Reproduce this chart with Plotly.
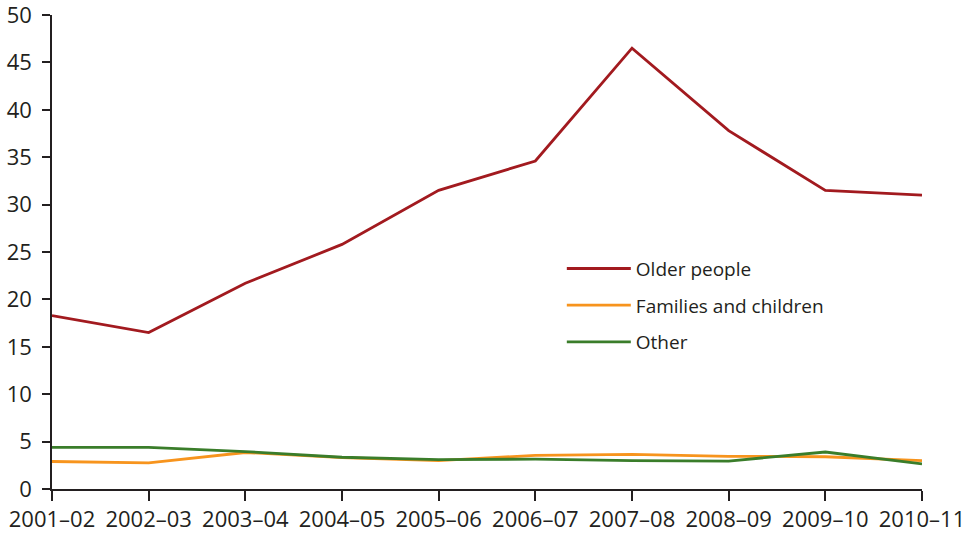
import plotly.graph_objects as go

years = ["2001–02", "2002–03", "2003–04", "2004–05", "2005–06",
         "2006–07", "2007–08", "2008–09", "2009–10", "2010–11"]
older_people = [18.3, 16.5, 21.7, 25.8, 31.5, 34.6, 46.5, 37.8, 31.5, 31.0]
families_children = [2.9, 2.75, 3.85, 3.3, 3.0, 3.55, 3.65, 3.45, 3.4, 3.0]
other = [4.4, 4.4, 3.95, 3.35, 3.1, 3.15, 3.0, 2.95, 3.9, 2.65]

series_names = ["Older people", "Families and children", "Other"]
colors = ["#A21A1F", "#F7941D", "#3A7D2A"]
font_family = "Open Sans, Noto Sans, sans-serif"
text_color = "#231F20"

fig = go.Figure()
for i, (name, vals) in enumerate(zip(series_names, [older_people, families_children, other])):
    fig.add_trace(go.Scatter(
        x=list(range(len(years))), y=vals, mode="lines", name=name,
        line=dict(color=colors[i], width=2.8), legendgroup=f"g{i}",
    ))

fig.update_layout(
    width=966, height=533,
    margin=dict(l=52, r=44, t=15, b=44),
    paper_bgcolor="white", plot_bgcolor="white",
    font=dict(family=font_family, size=22, color=text_color),
    showlegend=True,
    legend=dict(x=0.586, y=0.505, xanchor="left", yanchor="top",
                font=dict(size=19, color=text_color), tracegroupgap=9,
                bgcolor="rgba(0,0,0,0)", itemwidth=64),
    xaxis=dict(
        range=[0, len(years) - 1], tickmode="array",
        tickvals=list(range(len(years))), ticktext=years,
        showline=True, linecolor=text_color, linewidth=1.5,
        ticks="outside", ticklen=10, tickwidth=1.5, tickcolor=text_color,
        showgrid=False, zeroline=False, automargin=False,
        ticklabeloverflow="allow",
    ),
    yaxis=dict(
        range=[0, 50], tickmode="array", tickvals=list(range(0, 51, 5)),
        showline=True, linecolor=text_color, linewidth=1.5,
        ticks="outside", ticklen=8, tickwidth=1.5, tickcolor=text_color,
        showgrid=False, zeroline=False, automargin=False,
        ticklabeloverflow="allow", ticklabelstandoff=6,
    ),
)

fig.write_html("out.html")
